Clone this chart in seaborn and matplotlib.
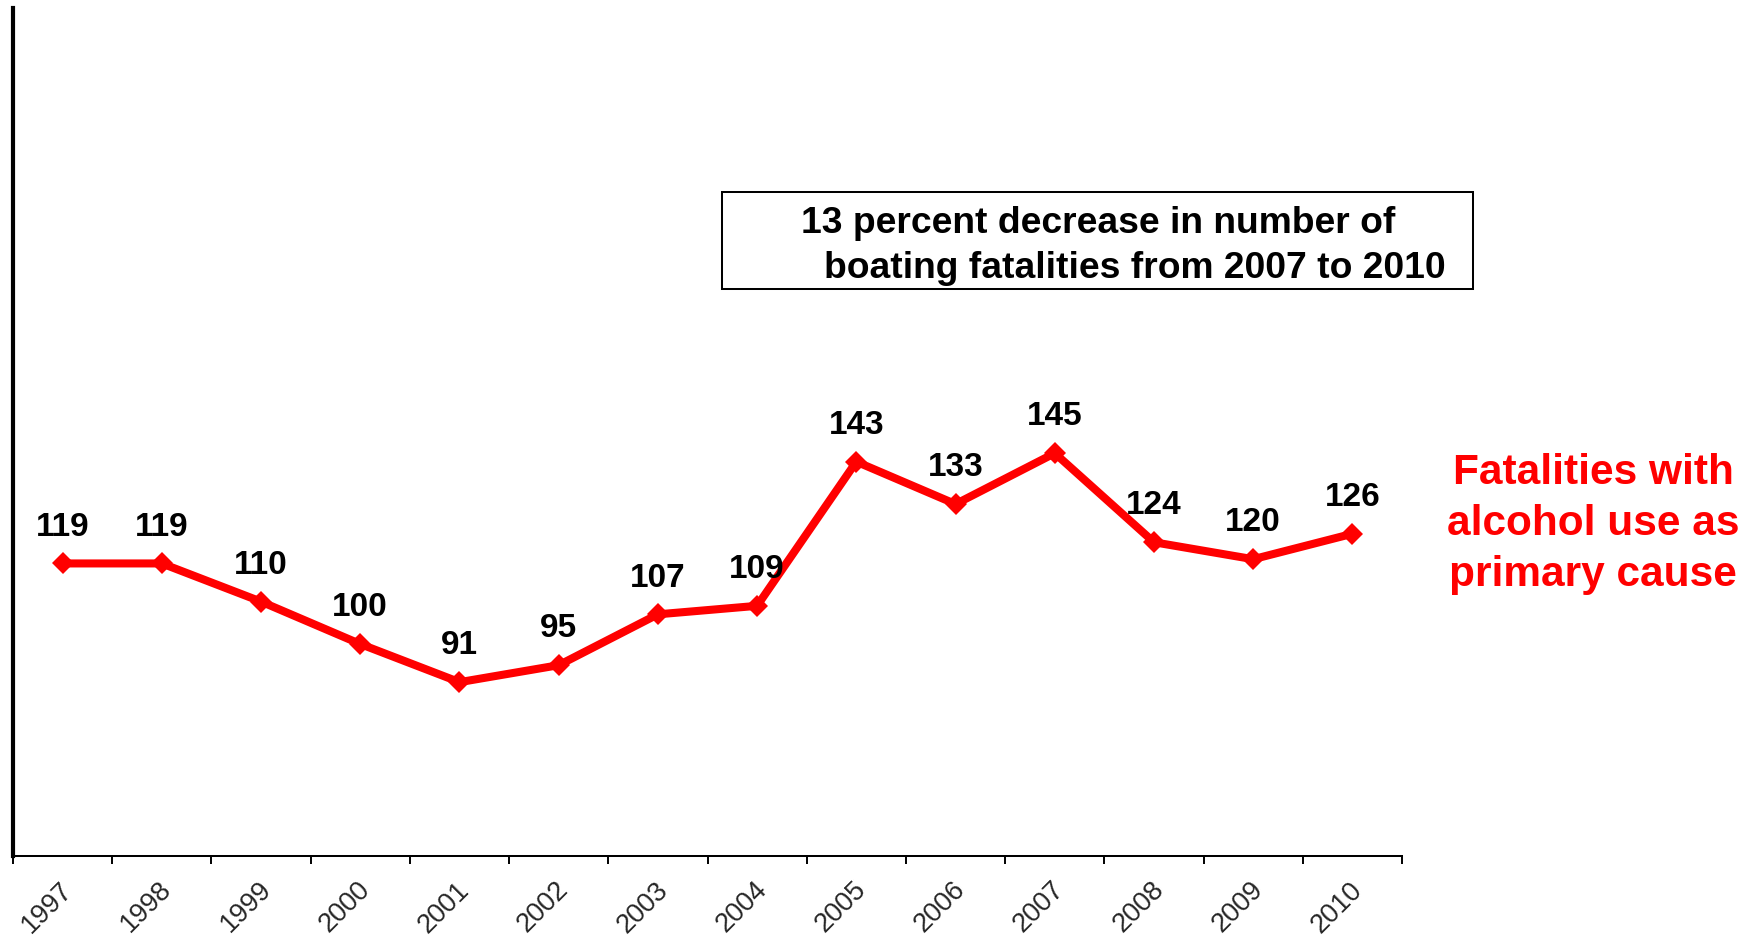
import matplotlib
matplotlib.use("Agg")
import matplotlib.pyplot as plt
import matplotlib.transforms as mtransforms
import seaborn as sns
import pandas as pd
import numpy as np
from matplotlib.patches import Rectangle

years = ["1997", "1998", "1999", "2000", "2001", "2002", "2003",
         "2004", "2005", "2006", "2007", "2008", "2009", "2010"]
fatalities = [119, 119, 110, 100, 91, 95, 107, 109, 143, 133, 145, 124, 120, 126]
box_lines = ["13 percent decrease in number of",
             "boating fatalities from 2007 to 2010"]
side_lines = ["Fatalities with", "alcohol use as", "primary cause"]

sns.set_style("white")
plt.rcParams['font.family'] = ['Liberation Sans', 'DejaVu Sans']

df = pd.DataFrame({"year": years, "fatalities": fatalities})

W, H = 1759, 941
fig = plt.figure(figsize=(W / 100, H / 100), dpi=100)
ax = fig.add_axes([13 / W, (H - 856) / H, (1402 - 13) / W, (856 - 8) / H])

sns.lineplot(data=df, x="year", y="fatalities", ax=ax, color="#FF0000",
             linewidth=5.8, marker="D", markersize=11, markeredgewidth=0,
             sort=False)

ax.set_xlim(-0.5, len(years) - 0.5)
ax.set_ylim(50, 250)
ax.set_xlabel("")
ax.set_ylabel("")
ax.set_yticks([])
ax.set_xticks(range(len(years)))
ax.set_xticklabels(years, rotation=45, ha="right", va="center",
                   rotation_mode="anchor", fontsize=19.5)
ax.set_xticks(np.arange(-0.5, len(years), 1), minor=True)
ax.tick_params(axis="x", which="major", length=0, pad=23)
ax.tick_params(axis="x", which="minor", length=5.8, width=1.4,
               direction="out", color="black", bottom=True)

shift = mtransforms.ScaledTranslation(6 / 100, 2 / 100, fig.dpi_scale_trans)
for lbl in ax.get_xticklabels():
    lbl.set_transform(lbl.get_transform() + shift)

for side in ["top", "right"]:
    ax.spines[side].set_visible(False)
ax.spines["left"].set_linewidth(3.0)
ax.spines["left"].set_color("black")
ax.spines["bottom"].set_linewidth(1.45)
ax.spines["bottom"].set_color("black")
ax.grid(False)

for i, v in enumerate(fatalities):
    ax.annotate(str(v), (i, v), xytext=(0, 20), textcoords="offset points",
                ha="center", va="baseline", fontsize=24, fontweight="bold",
                color="black")

# annotation box
fig.patches.append(Rectangle((722 / W, (H - 289) / H), (1473 - 722) / W, 97 / H,
                             transform=fig.transFigure, fill=False,
                             edgecolor="black", linewidth=1.45))
fig.text(801 / W, (H - 233) / H, box_lines[0], ha="left", va="baseline",
         fontsize=26.8, fontweight="bold", color="black")
fig.text(824 / W, (H - 278) / H, box_lines[1], ha="left", va="baseline",
         fontsize=26.8, fontweight="bold", color="black")

for txt, base in zip(side_lines, [484, 535, 586]):
    fig.text(1593 / W, (H - base) / H, txt, ha="center", va="baseline",
             fontsize=30.5, fontweight="bold", color="#FF0000")

fig.savefig("out.png", dpi=100)
